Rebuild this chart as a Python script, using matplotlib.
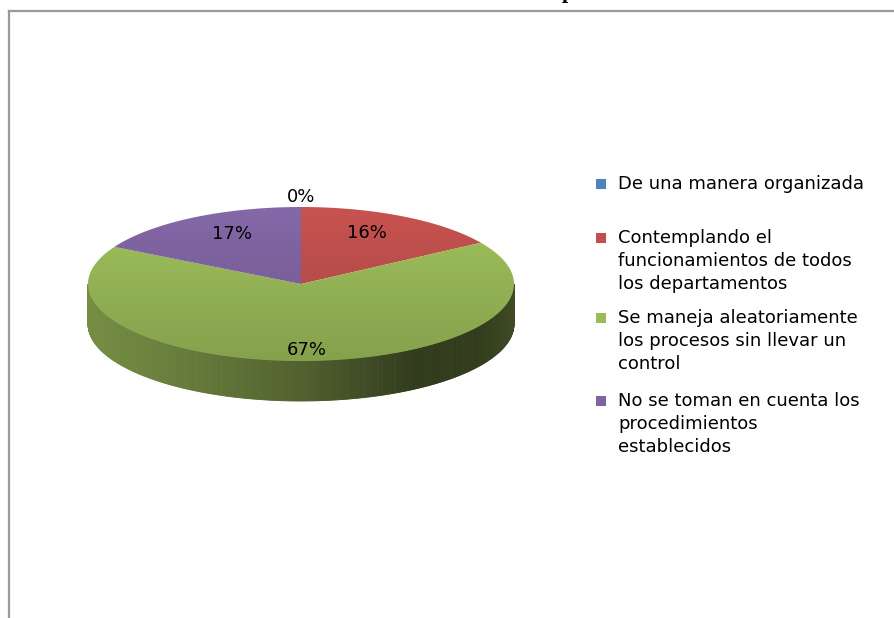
import numpy as np
import matplotlib
matplotlib.use("Agg")
import matplotlib.pyplot as plt
from matplotlib.patches import Polygon, Rectangle
from matplotlib.lines import Line2D
from matplotlib.colors import to_rgb

# Survey answers (percent of respondents)
categories = [
    "De una manera organizada",
    "Contemplando el\nfuncionamientos de todos\nlos departamentos",
    "Se maneja aleatoriamente\nlos procesos sin llevar un\ncontrol",
    "No se toman en cuenta los\nprocedimientos\nestablecidos",
]
values = [0, 16, 67, 17]
colors = ["#4F81BD", "#C0504D", "#9BBB59", "#8064A2"]

W, H = 895, 618
fig = plt.figure(figsize=(W / 100, H / 100), dpi=100)
ax = fig.add_axes([0, 0, 1, 1])
ax.set_xlim(0, W)
ax.set_ylim(H, 0)
ax.axis("off")

FONT = "DejaVu Sans"

# chart frame
ax.add_line(Line2D([9.5, 9.5], [618, 10.5], color="#9a9a9a", lw=1.6))
ax.add_line(Line2D([9.5, 895], [10.5, 10.5], color="#9a9a9a", lw=1.6))
fig.text(568 / W, 1.004, "p", ha="center", va="baseline",
         family="Liberation Serif", weight="bold", fontsize=16, color="black")

# 3-D pie geometry (pixel space)
cx, cy = 301.0, 284.0
a, b = 213.0, 77.0
depth = 40.0


def pt(t, dz=0.0):
    r = np.radians(t)
    return cx + a * np.cos(r), cy - b * np.sin(r) + dz


def shade(rgb, f):
    return tuple(np.clip(np.array(rgb) * f, 0, 1))


def side_factor(t):
    c = np.cos(np.radians(t))
    return np.interp(c, [-1.0, -0.5, 0.0, 0.55, 0.85, 1.0],
                     [0.76, 0.65, 0.52, 0.31, 0.33, 0.40])


total = float(sum(values))
start = 90.0
slices = []
for v, col in zip(values, colors):
    span = v / total * 360.0
    slices.append((start, start - span, col))
    start -= span

# side walls (front half only)
for t1, t2, col in slices:
    if t1 - t2 <= 0:
        continue
    rgb = to_rgb(col)
    ts = np.linspace(t2, t1, int(np.ceil(t1 - t2)) * 2 + 2)
    for s0, s1 in zip(ts[:-1], ts[1:]):
        mid = 0.5 * (s0 + s1)
        if np.sin(np.radians(mid)) >= 0:
            continue
        fc = shade(rgb, side_factor(mid))
        quad = [pt(s0), pt(s1), pt(s1, depth), pt(s0, depth)]
        ax.add_patch(Polygon(quad, closed=True, facecolor=fc, edgecolor=fc,
                             lw=0.6, zorder=2))

# top faces with a soft vertical gradient
grad = np.linspace(1.04, 0.86, 256)[:, None]
for t1, t2, col in slices:
    if t1 - t2 <= 0:
        continue
    rgb = np.array(to_rgb(col))
    ts = np.linspace(t1, t2, max(int(t1 - t2) * 2, 4))
    verts = [(cx, cy)] + [pt(t) for t in ts]
    poly = Polygon(verts, closed=True, facecolor="none", edgecolor="none",
                   zorder=3)
    ax.add_patch(poly)
    img = np.clip(grad[:, :, None] * rgb[None, None, :], 0, 1)
    im = ax.imshow(img, extent=(cx - a, cx + a, cy + b, cy - b),
                   aspect="auto", interpolation="bilinear", zorder=3)
    im.set_clip_path(poly)

# percentage labels (placed along each slice's mid-angle)
label_rx = [1.13, 0.64, 0.86, 0.64]
label_ry = [1.13, 0.75, 0.86, 0.75]
for (t1, t2, col), v, rx, ry in zip(slices, values, label_rx, label_ry):
    rad = np.radians(0.5 * (t1 + t2))
    x = cx + rx * a * np.cos(rad)
    y = cy - ry * b * np.sin(rad)
    ax.text(x, y, f"{v}%", ha="center", va="center", fontsize=13,
            family=FONT, color="black", zorder=5)

# legend
leg_y = [184, 238, 318, 401]
for lab, col, y in zip(categories, colors, leg_y):
    ax.add_patch(Rectangle((596, y - 5), 10, 10, facecolor=col,
                           edgecolor="none", zorder=4))
    ax.text(618, y - 9, lab, ha="left", va="top", fontsize=13,
            family=FONT, color="black", linespacing=1.34, zorder=5)

fig.savefig("out.png", dpi=100)
